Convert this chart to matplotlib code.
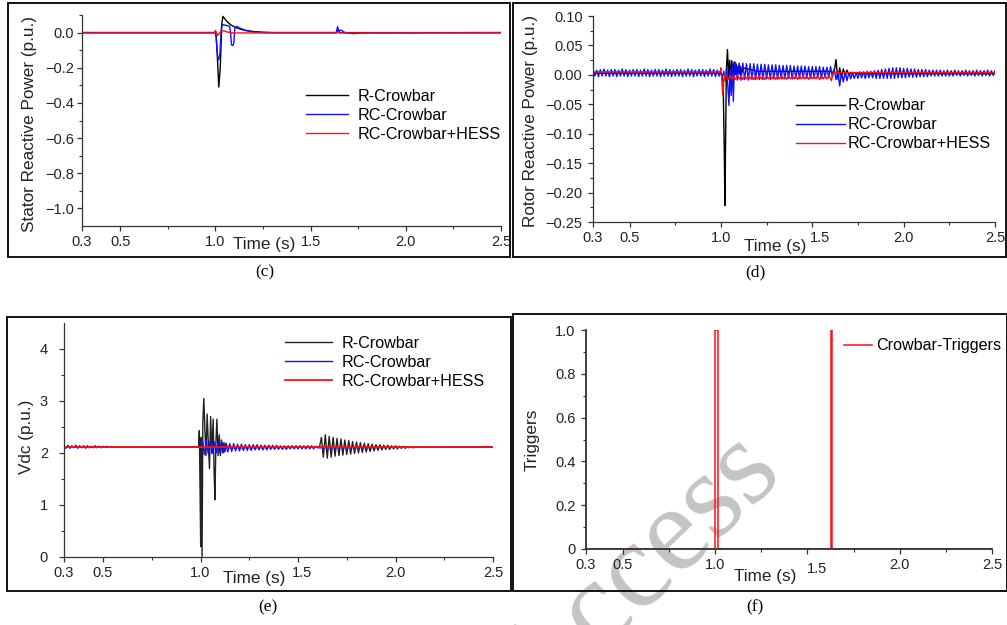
import numpy as np
import matplotlib
matplotlib.use('Agg')
import matplotlib.pyplot as plt
from matplotlib.patches import Rectangle
from matplotlib.ticker import FixedLocator, FixedFormatter
from matplotlib.transforms import ScaledTranslation

plt.rcParams['font.family'] = ['Liberation Sans', 'DejaVu Sans']
plt.rcParams['axes.unicode_minus'] = True

W, H = 1007, 625

# ---------------- data ----------------
x_major = [0.3, 0.5, 1.0, 1.5, 2.0, 2.5]
x_minor = [0.75, 1.25, 1.75, 2.25]
series_names = ['R-Crowbar', 'RC-Crowbar', 'RC-Crowbar+HESS']

# (c) stator reactive power
stator_r_t = [0.3, 0.995, 1.003, 1.010, 1.018, 1.026, 1.034, 1.040, 1.05, 1.06, 1.08, 1.10, 1.13,
              1.16, 1.20, 1.25, 1.30, 1.60, 1.635, 1.643, 1.655, 1.70, 2.5]
stator_r = [0.0, 0.0, 0.005, -0.12, -0.31, -0.20, 0.05, 0.092, 0.078, 0.064, 0.045, 0.032, 0.020,
            0.012, 0.006, 0.002, 0.0, 0.0, 0.0, 0.012, 0.0, 0.0, 0.0]
stator_rc_t = [0.3, 0.998, 1.004, 1.012, 1.018, 1.024, 1.032, 1.040, 1.060, 1.075, 1.080, 1.085,
               1.092, 1.097, 1.102, 1.110, 1.130, 1.160, 1.200, 1.250, 1.600, 1.635, 1.642, 1.648,
               1.660, 1.680, 1.720, 1.800, 2.5]
stator_rc = [0.0, 0.0, -0.02, -0.14, -0.155, -0.12, 0.03, 0.045, 0.040, 0.036, 0.0, -0.07,
             -0.074, -0.06, 0.02, 0.036, 0.025, 0.012, 0.004, 0.0, 0.0, 0.0, 0.034, 0.010,
             0.015, 0.0, -0.006, -0.002, 0.0]
stator_hess_t = [0.3, 0.995, 1.0, 1.006, 1.012, 1.02, 1.03, 1.045, 1.06, 1.08, 1.1, 1.64, 1.645,
                 1.65, 1.66, 2.5]
stator_hess = [-0.002, -0.002, 0.012, -0.002, -0.016, -0.005, 0.008, 0.010, 0.004, 0.0, -0.002,
               -0.002, 0.006, -0.002, -0.002, -0.002]

# (d) rotor reactive power
rotor_r_t = [0.30, 0.995, 1.005, 1.012, 1.018, 1.022, 1.026, 1.030, 1.036, 1.042, 1.048, 1.054,
             1.060, 1.066, 1.072, 1.078, 1.084, 1.090, 1.096, 1.102, 1.108, 1.114, 1.120, 1.200,
             1.600, 1.615, 1.622, 1.630, 1.636, 1.642, 1.650, 1.660, 1.670, 1.680, 1.690, 1.700,
             1.720, 1.750, 2.50]
rotor_r = [0.003, 0.003, 0.0, -0.01, -0.12, -0.222, -0.10, 0.01, 0.043, -0.005, 0.025, -0.004,
           0.024, -0.002, 0.022, 0.0, 0.018, 0.002, 0.016, 0.002, 0.014, 0.003, 0.012, 0.006,
           0.006, 0.004, 0.010, 0.026, 0.005, -0.008, 0.012, -0.004, 0.010, -0.002, 0.008, 0.0,
           0.004, 0.002, 0.002]
rotor_rc_pre = [0.009, -0.002, 0.008, -0.003, 0.009, -0.002, 0.010, -0.002, 0.008, -0.003,
                0.009, -0.002, 0.009, -0.003, 0.008, -0.002, 0.010, -0.002, 0.009, -0.003,
                0.008, -0.002, 0.009, -0.002, 0.009, -0.003, 0.008, -0.002, 0.010, -0.002,
                0.009, -0.003, 0.008, -0.002, 0.009, -0.002, 0.009, -0.003, 0.008, -0.002,
                0.010, -0.002, 0.009, -0.003, 0.008, -0.002, 0.009, -0.002, 0.009, -0.003,
                0.008, -0.002, 0.010, -0.002, 0.009, -0.003, 0.008, -0.002, 0.009, -0.002,
                0.009, -0.003, 0.008, -0.002, 0.010, -0.002, 0.009, -0.003, 0.008, -0.002]
rotor_rc_fault_t = [1.000, 1.008, 1.016, 1.024, 1.032, 1.040, 1.044, 1.050, 1.056, 1.062, 1.068, 1.074]
rotor_rc_fault = [0.004, -0.004, 0.006, -0.010, 0.012, -0.030, -0.052, 0.010, -0.035, 0.015, -0.045, 0.020]
rotor_rc_mid = [0.021, -0.009, 0.020, -0.009, 0.020, -0.008, 0.019, -0.009, 0.019, -0.008,
                0.019, -0.008, 0.018, -0.008, 0.018, -0.008, 0.018, -0.007, 0.017, -0.008,
                0.017, -0.007, 0.017, -0.007, 0.016, -0.007, 0.016, -0.007, 0.016, -0.006,
                0.016, -0.007, 0.015, -0.006, 0.015, -0.006, 0.015, -0.006, 0.015, -0.006,
                0.014, -0.006, 0.014, -0.006, 0.014, -0.005, 0.014, -0.006, 0.013, -0.005,
                0.013, -0.005, 0.014]
rotor_rc_clear = [-0.004, 0.010, -0.008, 0.006, -0.019, 0.004, -0.012, 0.005, -0.010, 0.004]
rotor_rc_post = [-0.007, 0.004, -0.006, 0.004, -0.006, 0.005, -0.005, 0.005, -0.006, 0.006,
                 -0.005, 0.006, -0.005, 0.007, -0.006,
                 0.008, -0.006, 0.009, -0.006, 0.010, -0.006, 0.011, -0.006, 0.012, -0.006,
                 0.012, -0.005, 0.012, -0.005, 0.011, -0.005, 0.011, -0.004, 0.010, -0.004,
                 0.010, -0.004, 0.009, -0.003, 0.009,
                 -0.003, 0.009, -0.003, 0.008, -0.002, 0.008, -0.002, 0.008, -0.002, 0.008,
                 -0.002, 0.007, -0.002, 0.008, -0.002, 0.007, -0.002, 0.008, -0.001, 0.007,
                 -0.002, 0.007, -0.001, 0.008, -0.002, 0.007, -0.001, 0.007, -0.002, 0.008,
                 -0.001, 0.007, -0.002, 0.007, -0.001, 0.008, -0.002, 0.007, -0.001, 0.007]
rotor_hess_a_t = [0.30, 0.995, 1.000, 1.004, 1.010, 1.016, 1.022]
rotor_hess_a = [0.005, 0.005, 0.012, -0.005, -0.034, -0.012, 0.002]
rotor_hess_mid = [-0.002, -0.008, -0.001, -0.007, -0.002, -0.008, -0.001, -0.007, -0.002, -0.008,
                  -0.001, -0.007, -0.002, -0.007, -0.001, -0.008, -0.002, -0.007, -0.001, -0.007,
                  -0.002, -0.008, -0.001, -0.007, -0.002, -0.007, -0.001, -0.008, -0.002, -0.007,
                  -0.001, -0.007, -0.002, -0.008, -0.001, -0.007, -0.002, -0.007, -0.001, -0.008,
                  -0.002, -0.007, -0.001, -0.007, -0.002, -0.008, -0.001, -0.007, -0.002, -0.007,
                  -0.001, -0.008, -0.002, -0.007, -0.001, -0.007, -0.002, -0.006]
rotor_hess_b_t = [1.605, 1.612, 1.620, 1.650, 2.50]
rotor_hess_b = [-0.010, 0.002, 0.004, 0.004, 0.004]

# (e) DC-link voltage
vdc_r_a_t = [0.30, 0.990, 0.994, 0.998, 1.001, 1.004, 1.008, 1.012, 1.017, 1.022, 1.028, 1.034,
             1.040, 1.046, 1.052, 1.058, 1.065, 1.070, 1.074, 1.079, 1.084, 1.090, 1.096, 1.102,
             1.108, 1.114, 1.120, 1.126, 1.132, 1.140, 1.610]
vdc_r_a = [2.11, 2.11, 2.43, 1.20, 0.20, 2.30, 0.00, 2.60, 3.05, 2.50, 1.95, 2.75,
           2.20, 1.70, 2.70, 2.00, 2.65, 1.60, 1.10, 2.20, 2.65, 1.95, 2.35, 1.95,
           2.25, 2.00, 2.20, 2.03, 2.17, 2.10, 2.11]
vdc_r_post = [2.30, 1.92, 2.35, 1.90, 2.32, 1.92, 2.30, 1.94, 2.28, 1.95,
              2.27, 1.96, 2.25, 1.97, 2.24, 1.98, 2.22, 1.99, 2.21, 2.00,
              2.20, 2.01, 2.19, 2.02, 2.18, 2.03, 2.17, 2.04, 2.16, 2.05,
              2.16, 2.06, 2.15, 2.07, 2.15, 2.07, 2.14, 2.08, 2.14, 2.08,
              2.13, 2.09, 2.13, 2.09, 2.12, 2.10, 2.12, 2.10, 2.11]
vdc_rc_pre = [2.14, 2.09, 2.15, 2.09, 2.14, 2.10, 2.15, 2.09, 2.14, 2.10, 2.14, 2.09, 2.14,
              2.10, 2.13, 2.10, 2.14, 2.10, 2.13, 2.10, 2.13, 2.11, 2.13, 2.11, 2.12, 2.11]
vdc_rc_fault = [2.12, 2.25, 1.97, 2.24, 1.98, 2.23, 1.99, 2.22, 2.00, 2.21,
                2.00, 2.20, 2.01, 2.19, 2.02, 2.18, 2.03, 2.18, 2.04, 2.17,
                2.04, 2.17, 2.05, 2.16, 2.05, 2.16, 2.05, 2.16, 2.06, 2.16,
                2.06, 2.15, 2.06, 2.15, 2.06, 2.15, 2.07, 2.15, 2.07, 2.15,
                2.07, 2.14, 2.07, 2.14, 2.07, 2.14, 2.08, 2.14, 2.08, 2.14,
                2.08, 2.14, 2.08, 2.14, 2.08, 2.14, 2.08, 2.14, 2.08, 2.13, 2.10]
vdc_hess_t = [0.3, 2.5]
vdc_hess = [2.11, 2.11]

# (f) crowbar triggers
trig_t = [0.3, 1.000, 1.000, 1.013, 1.013, 1.630, 1.630, 1.634, 1.634, 2.5]
trig = [0, 0, 1, 1, 0, 0, 1, 1, 0, 0]


def grid(t0, dt, vals):
    return list(t0 + dt * np.arange(len(vals)))


# assemble piecewise series
rotor_rc_t = (grid(0.30, 0.01, rotor_rc_pre) + rotor_rc_fault_t + grid(1.08, 0.01, rotor_rc_mid)
              + grid(1.61, 0.01, rotor_rc_clear) + grid(1.71, 0.01, rotor_rc_post))
rotor_rc = rotor_rc_pre + rotor_rc_fault + rotor_rc_mid + rotor_rc_clear + rotor_rc_post
rotor_hess_t = rotor_hess_a_t + grid(1.03, 0.01, rotor_hess_mid) + rotor_hess_b_t
rotor_hess = rotor_hess_a + rotor_hess_mid + rotor_hess_b
vdc_r_t = vdc_r_a_t + grid(1.62, 0.01, vdc_r_post) + [2.5]
vdc_r = vdc_r_a + vdc_r_post + [2.11]
vdc_rc_t = grid(0.30, 0.01, vdc_rc_pre) + [0.99] + grid(1.00, 0.01, vdc_rc_fault) + [2.5]
vdc_rc = vdc_rc_pre + [2.12] + vdc_rc_fault + [2.12]

# ---------------- figure ----------------
fig = plt.figure(figsize=(W / 100, H / 100), dpi=100)
SPINE = '#333333'
C_R, C_RC, C_H = '#000000', '#1010ff', '#ff1010'


def add_ax(x0, x1, ytop, ybot):
    return fig.add_axes([x0 / W, 1 - ybot / H, (x1 - x0) / W, (ybot - ytop) / H])


def frame(x0, x1, ytop, ybot):
    fig.add_artist(Rectangle((x0 / W, 1 - ybot / H), (x1 - x0) / W, (ybot - ytop) / H,
                             transform=fig.transFigure, fill=False, lw=1.4, ec='#111111'))


def style(ax, ylim, yticks, yminor, ylabels, ylabel, ylab_xy, xlab_xy, ypad=2.5, spine_lw=0.9):
    ax.set_xlim(0.3, 2.5)
    ax.set_ylim(*ylim)
    for s in ['top', 'right']:
        ax.spines[s].set_visible(False)
    for s in ['left', 'bottom']:
        ax.spines[s].set_color(SPINE)
        ax.spines[s].set_linewidth(spine_lw)
        ax.spines[s].set_zorder(3)
    ax.xaxis.set_major_locator(FixedLocator(x_major))
    ax.xaxis.set_major_formatter(FixedFormatter([f'{v:.1f}' for v in x_major]))
    ax.xaxis.set_minor_locator(FixedLocator(x_minor))
    ax.yaxis.set_major_locator(FixedLocator(yticks))
    ax.yaxis.set_major_formatter(FixedFormatter(ylabels))
    ax.yaxis.set_minor_locator(FixedLocator(yminor))
    ax.tick_params(which='major', direction='out', length=3.5, width=0.9, color=SPINE,
                   labelsize=10.5, labelcolor='#222222')
    ax.tick_params(which='minor', direction='out', length=2.2, width=0.8, color=SPINE)
    ax.tick_params(axis='y', which='major', pad=ypad)
    ax.tick_params(axis='x', which='major', pad=3)
    ax.set_xlabel('Time (s)', fontsize=12.3, color='#222222')
    ax.xaxis.set_label_coords(*xlab_xy)
    ax.xaxis.label.set_va('center')
    ax.set_ylabel(ylabel, fontsize=12.3, color='#222222')
    ax.yaxis.set_label_coords(*ylab_xy)
    ax.yaxis.label.set_va('center')
    ax.patch.set_alpha(0)


def shift_xlabel(ax, idx, dx, dy):
    lab = ax.xaxis.get_major_ticks()[idx].label1
    lab.set_transform(lab.get_transform() + ScaledTranslation(dx / 100, -dy / 100, fig.dpi_scale_trans))


def legend(ax, anchor, hl, pad):
    ax.legend(loc='upper left', bbox_to_anchor=anchor, frameon=False, fontsize=11.6,
              borderpad=0, borderaxespad=0, handlelength=hl, handletextpad=pad,
              labelspacing=0.25)


LW = 1.0

# watermark (drawn beneath the plots)
fig.text(640 / W, 1 - 574 / H, 'Access', rotation=44, rotation_mode='anchor', ha='center',
         va='center', fontsize=88, color='#c4c4c4',
         family=['Liberation Serif'], zorder=-5)

# (c)
ax = add_ax(82, 501, 15, 226)
ax.plot(stator_r_t, stator_r, color=C_R, lw=LW, label=series_names[0])
ax.plot(stator_rc_t, stator_rc, color=C_RC, lw=LW, label=series_names[1])
ax.plot(stator_hess_t, stator_hess, color=C_H, lw=LW, label=series_names[2])
style(ax, (-1.1, 0.1), [0.0, -0.2, -0.4, -0.6, -0.8, -1.0],
      [0.1, -0.1, -0.3, -0.5, -0.7, -0.9],
      ['0.0', '\u22120.2', '\u22120.4', '\u22120.6', '\u22120.8', '\u22121.0'],
      'Stator Reactive Power (p.u.)', (-0.125, 0.483), (0.434, -0.09))
legend(ax, (0.535, 0.65), 2.6, 0.6)
frame(8, 509.5, 2.5, 256.5)
fig.text(265 / W, 1 - 272 / H, '(c)', ha='center', va='center', fontsize=12.5,
         family=['Liberation Serif'])

# (d)
ax = add_ax(593, 995, 16, 222)
ax.plot(rotor_r_t, rotor_r, color=C_R, lw=LW, label=series_names[0])
ax.plot(rotor_rc_t, rotor_rc, color=C_RC, lw=LW, label=series_names[1])
ax.plot(rotor_hess_t, rotor_hess, color=C_H, lw=LW, label=series_names[2])
style(ax, (-0.25, 0.10), [0.10, 0.05, 0.0, -0.05, -0.10, -0.15, -0.20, -0.25],
      [0.075, 0.025, -0.025, -0.075, -0.125, -0.175, -0.225],
      ['0.10', '0.05', '0.00', '\u22120.05', '\u22120.10', '\u22120.15', '\u22120.20', '\u22120.25'],
      'Rotor Reactive Power (p.u.)', (-0.155, 0.491), (0.452, -0.117), ypad=4)
shift_xlabel(ax, 3, 8, 0)
legend(ax, (0.504, 0.60), 3.05, 0.2)
frame(513.3, 1006, 2.5, 256.5)
fig.text(755 / W, 1 - 272 / H, '(d)', ha='center', va='center', fontsize=12.5,
         family=['Liberation Serif'])

# (e)
ax = add_ax(64, 493, 323, 557)
ax.plot(vdc_r_t, vdc_r, color='#222222', lw=LW, label=series_names[0])
ax.plot(vdc_rc_t, vdc_rc, color=C_RC, lw=LW, label=series_names[1])
ax.plot(vdc_hess_t, vdc_hess, color=C_H, lw=1.3, label=series_names[2])
style(ax, (0, 4.5), [0, 1, 2, 3, 4], [0.5, 1.5, 2.5, 3.5],
      ['0', '1', '2', '3', '4'], 'Vdc (p.u.)', (-0.087, 0.514), (0.443, -0.094), ypad=8)
shift_xlabel(ax, 3, 4, 0)
legend(ax, (0.515, 0.946), 2.9, 0.6)
frame(7.3, 510.7, 316.7, 591)
fig.text(268 / W, 1 - 607 / H, '(e)', ha='center', va='center', fontsize=12.5,
         family=['Liberation Serif'])

# (f)
ax = add_ax(586, 992, 330, 549)
ax.plot(trig_t, trig, color=C_H, lw=1.1, label='Crowbar-Triggers')
style(ax, (0, 1.0), [0, 0.2, 0.4, 0.6, 0.8, 1.0], [0.1, 0.3, 0.5, 0.7, 0.9],
      ['0', '0.2', '0.4', '0.6', '0.8', '1.0'], 'Triggers', (-0.132, 0.498), (0.441, -0.126),
      ypad=4, spine_lw=1.3)
shift_xlabel(ax, 3, 10, 4)
legend(ax, (0.635, 0.962), 1.75, 0.25)
frame(513.3, 1006.5, 314, 591)
fig.text(755 / W, 1 - 607 / H, '(f)', ha='center', va='center', fontsize=12.5,
         family=['Liberation Serif'])

fig.savefig('out.png', dpi=100)
